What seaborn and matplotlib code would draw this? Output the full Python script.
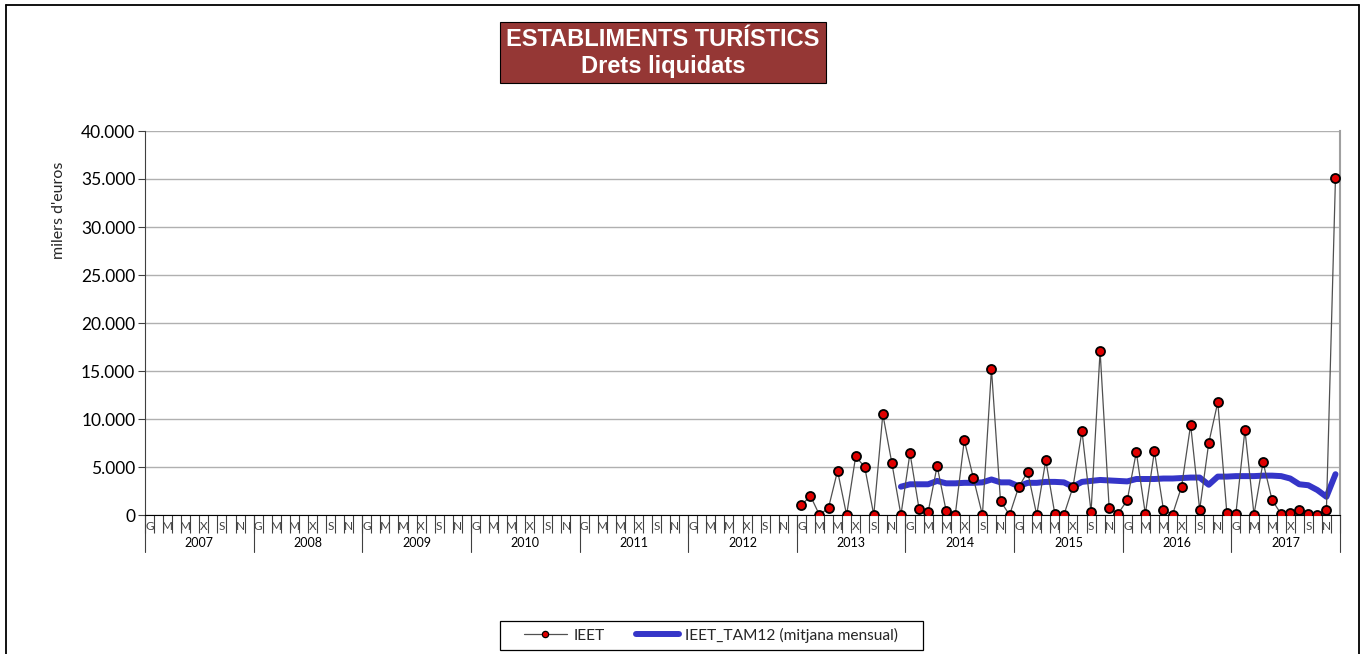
import numpy as np
import pandas as pd
import seaborn as sns
import matplotlib.pyplot as plt
from matplotlib.lines import Line2D
from matplotlib.patches import Rectangle
import matplotlib.transforms as mtransforms
from matplotlib.ticker import FuncFormatter, MultipleLocator

# Years on the axis and Catalan month initials shown on every other month
years = list(range(2007, 2018))
month_initials = ['G', 'M', 'M', 'X', 'S', 'N']

# IEET monthly values (thousands of euros), Jan 2013 - Dec 2017
ieet = [
    1000, 2000, 0, 750, 4600, 0, 6100, 5000, 0, 10500, 5400, 0,          # 2013
    6450, 650, 300, 5100, 400, 0, 7800, 3850, 0, 15200, 1450, 0,         # 2014
    2900, 4500, 0, 5700, 100, 0, 2900, 8750, 300, 17100, 750, 150,       # 2015
    1550, 6550, 100, 6650, 550, 50, 2950, 9400, 550, 7500, 11750, 200,   # 2016
    150, 8850, 50, 5500, 1550, 100, 200, 550, 100, 50, 550, 35100,       # 2017
]

# IEET_TAM12 (monthly mean of last 12 months), Dec 2013 - Dec 2017
tam12 = [
    2950,                                                               # Dec 2013
    3200, 3200, 3200, 3550, 3300, 3300, 3350, 3350, 3400, 3700, 3400, 3400,
    3000, 3350, 3350, 3450, 3450, 3400, 2950, 3450, 3550, 3650, 3600, 3550,
    3500, 3750, 3750, 3750, 3800, 3800, 3850, 3900, 3900, 3150, 4000, 4000,
    4050, 4050, 4050, 4100, 4100, 4050, 3800, 3200, 3100, 2600, 1900, 4250,
]

n_months = len(years) * 12
start_ieet = (2013 - years[0]) * 12
start_tam = start_ieet + 11

df_ieet = pd.DataFrame({'mes': np.arange(start_ieet, start_ieet + len(ieet)), 'valor': ieet})
df_tam = pd.DataFrame({'mes': np.arange(start_tam, start_tam + len(tam12)), 'valor': tam12})

sns.set_style('white')
plt.rcParams['font.family'] = ['Lato', 'DejaVu Sans']

fig = plt.figure(figsize=(13.64, 6.54), dpi=100)
ax = fig.add_axes([145 / 1364, 1 - 515 / 654, 1195 / 1364, 384 / 654])

red_series = '#e00000'
blue_series = '#3535c8'

sns.lineplot(data=df_ieet, x='mes', y='valor', ax=ax, color='#505050', lw=0.9,
             marker='o', markersize=6.5, markerfacecolor=red_series,
             markeredgecolor='black', markeredgewidth=1.3, zorder=3)
sns.lineplot(data=df_tam, x='mes', y='valor', ax=ax, color=blue_series, lw=4.3,
             solid_capstyle='round', zorder=2)

ax.set_xlim(-0.5, n_months - 0.5)
ax.set_ylim(0, 40000)
ax.yaxis.set_major_locator(MultipleLocator(5000))
ax.yaxis.set_major_formatter(FuncFormatter(lambda v, p: f'{int(v):,}'.replace(',', '.')))
ax.grid(axis='y', color='#b0b0b0', lw=1.0)
ax.set_axisbelow(True)

ax.spines['top'].set_visible(False)
ax.spines['left'].set_color('#404040')
ax.spines['bottom'].set_color('black')
ax.spines['right'].set_color('#a0a0a0')
ax.spines['right'].set_linewidth(1.5)

ax.tick_params(axis='y', which='major', left=True, length=5, width=0.8, color='#404040',
               labelsize=12.5, labelcolor='black', pad=2)

# month labels on odd months, separator ticks on month boundaries
label_pos = [i for i in range(n_months) if i % 2 == 0]
ax.set_xticks(label_pos)
ax.set_xticklabels([month_initials[(i % 12) // 2] for i in label_pos], fontsize=8.5, color='#404040')
ax.set_xticks(np.arange(-0.5, n_months, 1), minor=True)
ax.tick_params(axis='x', which='major', length=0, pad=4)
ax.tick_params(axis='x', which='minor', bottom=True, length=13, width=0.8, color='#404040')

trans = mtransforms.blended_transform_factory(ax.transData, ax.transAxes)
for k, yr in enumerate(years):
    x0 = k * 12 - 0.5
    ax.plot([x0, x0], [0, -0.097], transform=trans, color='#404040', lw=0.8, clip_on=False)
    ax.text(x0 + 6, -0.073, str(yr), transform=trans, ha='center', va='center', fontsize=9, color='black')
ax.plot([n_months - 0.5] * 2, [0, -0.097], transform=trans, color='#404040', lw=0.8, clip_on=False)

ax.set_xlabel('')
ax.set_ylabel("milers d'euros", fontsize=11.5)
ax.yaxis.set_label_coords(-0.066, 0.794)

# title box
fig.add_artist(Rectangle((500 / 1364, 1 - 83 / 654), 326 / 1364, 61 / 654,
                         transform=fig.transFigure, facecolor='#953735', edgecolor='black', lw=0.8))
fig.text(663 / 1364, 1 - 39 / 654, 'ESTABLIMENTS TURÍSTICS', ha='center', va='center',
         color='white', fontsize=17, fontweight='bold', family=['Liberation Sans', 'DejaVu Sans'])
fig.text(663 / 1364, 1 - 66 / 654, 'Drets liquidats', ha='center', va='center',
         color='white', fontsize=17, fontweight='bold', family=['Liberation Sans', 'DejaVu Sans'])

# legend (frame drawn separately to get the wide box)
fig.add_artist(Rectangle((500 / 1364, 1 - 650 / 654), 423 / 1364, 29 / 654,
                         transform=fig.transFigure, facecolor='white', edgecolor='black', lw=0.9))
handles = [
    Line2D([], [], color='#505050', lw=0.9, marker='o', markersize=4.5, markerfacecolor=red_series,
           markeredgecolor='black', markeredgewidth=0.9),
    Line2D([], [], color=blue_series, lw=4.3),
]
leg = fig.legend(handles, ['IEET', 'IEET_TAM12 (mitjana mensual)'], ncol=2,
                 loc='center', bbox_to_anchor=(711 / 1364, 1 - 635 / 654),
                 frameon=False, fontsize=11.2, handlelength=2.8,
                 columnspacing=2.0, borderpad=0.2, handletextpad=0.4, borderaxespad=0)
leg.set_zorder(5)

# outer frame
fig.add_artist(Line2D([6 / 1364, 6 / 1364], [0, 1 - 5 / 654], transform=fig.transFigure, color='black', lw=1.3))
fig.add_artist(Line2D([6 / 1364, 1359 / 1364], [1 - 5 / 654] * 2, transform=fig.transFigure, color='black', lw=1.3))
fig.add_artist(Line2D([1359 / 1364, 1359 / 1364], [0, 1 - 5 / 654], transform=fig.transFigure, color='black', lw=1.3))

fig.savefig('out.png', dpi=100)
